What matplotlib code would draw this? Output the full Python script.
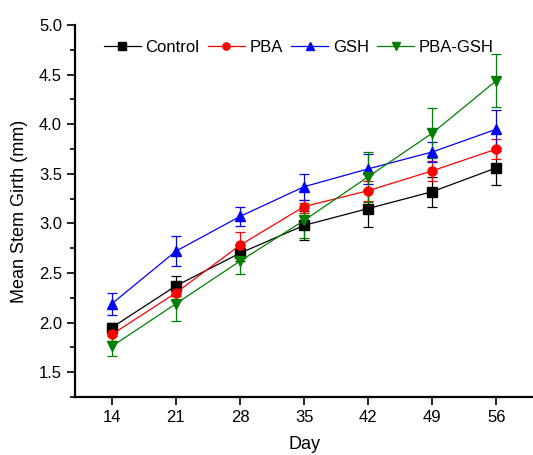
import matplotlib
matplotlib.use("Agg")
import matplotlib.pyplot as plt
from matplotlib.ticker import MultipleLocator, FormatStrFormatter

plt.rcParams['font.family'] = ['Liberation Sans', 'DejaVu Sans']

days = [14, 21, 28, 35, 42, 49, 56]
control = [1.95, 2.37, 2.70, 2.98, 3.15, 3.32, 3.56]
control_err = [0.05, 0.10, 0.08, 0.15, 0.19, 0.15, 0.17]
pba = [1.88, 2.30, 2.78, 3.17, 3.33, 3.53, 3.75]
pba_err = [0.07, 0.08, 0.13, 0.07, 0.10, 0.10, 0.10]
gsh = [2.19, 2.72, 3.07, 3.37, 3.55, 3.72, 3.95]
gsh_err = [0.11, 0.15, 0.10, 0.13, 0.15, 0.10, 0.19]
pba_gsh = [1.76, 2.19, 2.62, 3.03, 3.47, 3.91, 4.44]
pba_gsh_err = [0.10, 0.17, 0.13, 0.18, 0.25, 0.25, 0.27]

series = [
    ("Control", control, control_err, "black", "s"),
    ("PBA", pba, pba_err, "red", "o"),
    ("GSH", gsh, gsh_err, "blue", "^"),
    ("PBA-GSH", pba_gsh, pba_gsh_err, "green", "v"),
]

fig = plt.figure(figsize=(5.33, 4.55), dpi=100)
ax = fig.add_axes([0.141, 0.1275, 0.859, 0.8175])

handles = []
for name, vals, errs, col, mk in series:
    c = ax.errorbar(days, vals, yerr=errs, color=col, marker=mk, markersize=6.5,
                    linewidth=0.9, elinewidth=0.9, capsize=3.5, capthick=0.9,
                    label=name)
    handles.append(c[0])

ax.set_xlim(10, 60)
ax.set_ylim(1.25, 5.0)
ax.set_xticks(days)
ax.yaxis.set_major_locator(MultipleLocator(0.5))
ax.yaxis.set_minor_locator(MultipleLocator(0.25))
ax.yaxis.set_major_formatter(FormatStrFormatter('%.1f'))
ax.spines['top'].set_visible(False)
ax.spines['right'].set_visible(False)
ax.spines['left'].set_linewidth(1.6)
ax.spines['bottom'].set_linewidth(1.6)
ax.tick_params(axis='both', which='major', length=6, width=1.2, labelsize=12)
ax.tick_params(axis='y', which='minor', length=3.5, width=1.2)
ax.set_xlabel("Day", fontsize=13, labelpad=8)
ax.set_ylabel("Mean Stem Girth (mm)", fontsize=13, labelpad=8)

ax.legend(handles=handles, labels=[s[0] for s in series], loc='upper left',
          ncol=4, frameon=False, fontsize=12, markerscale=0.8,
          handlelength=2.2, handletextpad=0.3, columnspacing=0.5,
          bbox_to_anchor=(0.03, 1.0))

fig.savefig("out.png", dpi=100)
